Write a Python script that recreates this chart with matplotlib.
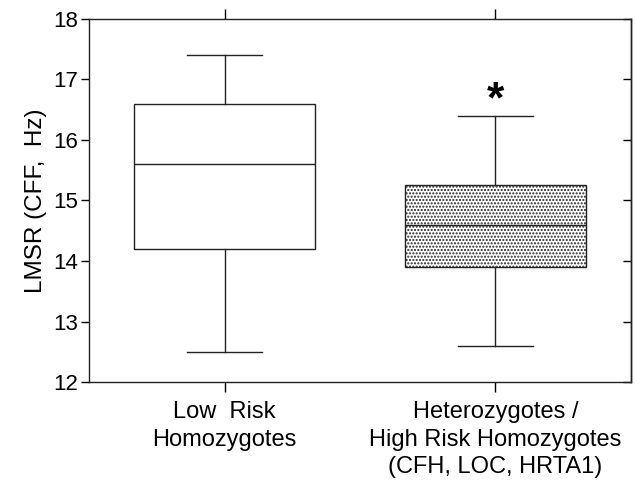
import matplotlib.pyplot as plt

plt.rcParams['font.family'] = ['Liberation Sans', 'DejaVu Sans']
plt.rcParams['font.size'] = 16
plt.rcParams['hatch.color'] = '#555555'
plt.rcParams['hatch.linewidth'] = 1.0

# box statistics
groups = ['Low  Risk\nHomozygotes',
          'Heterozygotes /\nHigh Risk Homozygotes\n(CFH, LOC, HRTA1)']
whislo = [12.5, 12.6]
q1 = [14.2, 13.9]
med = [15.6, 14.6]
q3 = [16.6, 15.25]
whishi = [17.4, 16.4]
star_y = 16.64

stats = []
for i in range(len(groups)):
    stats.append({'whislo': whislo[i], 'q1': q1[i], 'med': med[i],
                  'q3': q3[i], 'whishi': whishi[i], 'fliers': []})

fig = plt.figure(figsize=(6.36, 4.83), dpi=100)
ax = fig.add_axes([0.14, 0.209, 0.852, 0.752])

lw = 1.0
bp = ax.bxp(stats, positions=[1, 2], widths=0.668, patch_artist=True,
            showfliers=False,
            boxprops=dict(linewidth=lw, edgecolor='#222222'),
            whiskerprops=dict(linewidth=lw, color='#222222'),
            capprops=dict(linewidth=lw, color='#222222'),
            medianprops=dict(linewidth=lw, color='#222222'),
            capwidths=0.28)
bp['boxes'][0].set_facecolor('white')
bp['boxes'][1].set_facecolor('white')
bp['boxes'][1].set_hatch('.....')

ax.text(2, star_y, '*', ha='center', va='center', fontsize=32, fontweight='bold')

ax.set_xlim(0.5, 2.5)
ax.set_ylim(12, 18)
ax.set_yticks(range(12, 19))
ax.set_xticks([1, 2])
ax.set_xticklabels(groups, fontsize=17, linespacing=1.32)
ax.set_ylabel('LMSR (CFF,  Hz)', fontsize=17.5, labelpad=4)

for s in ax.spines.values():
    s.set_linewidth(1.0)
    s.set_color('#222222')

ax.tick_params(axis='x', direction='out', top=True, length=7, width=1.0, pad=7)
ax.tick_params(axis='y', direction='out', length=6, width=1.0, pad=2)
ax2 = ax.secondary_yaxis('right')
ax2.set_yticks(range(12, 19))
ax2.tick_params(direction='in', length=6, width=1.0, labelright=False)
ax2.spines['right'].set_linewidth(1.0)

fig.savefig('out.png', dpi=100)
plt.close()
